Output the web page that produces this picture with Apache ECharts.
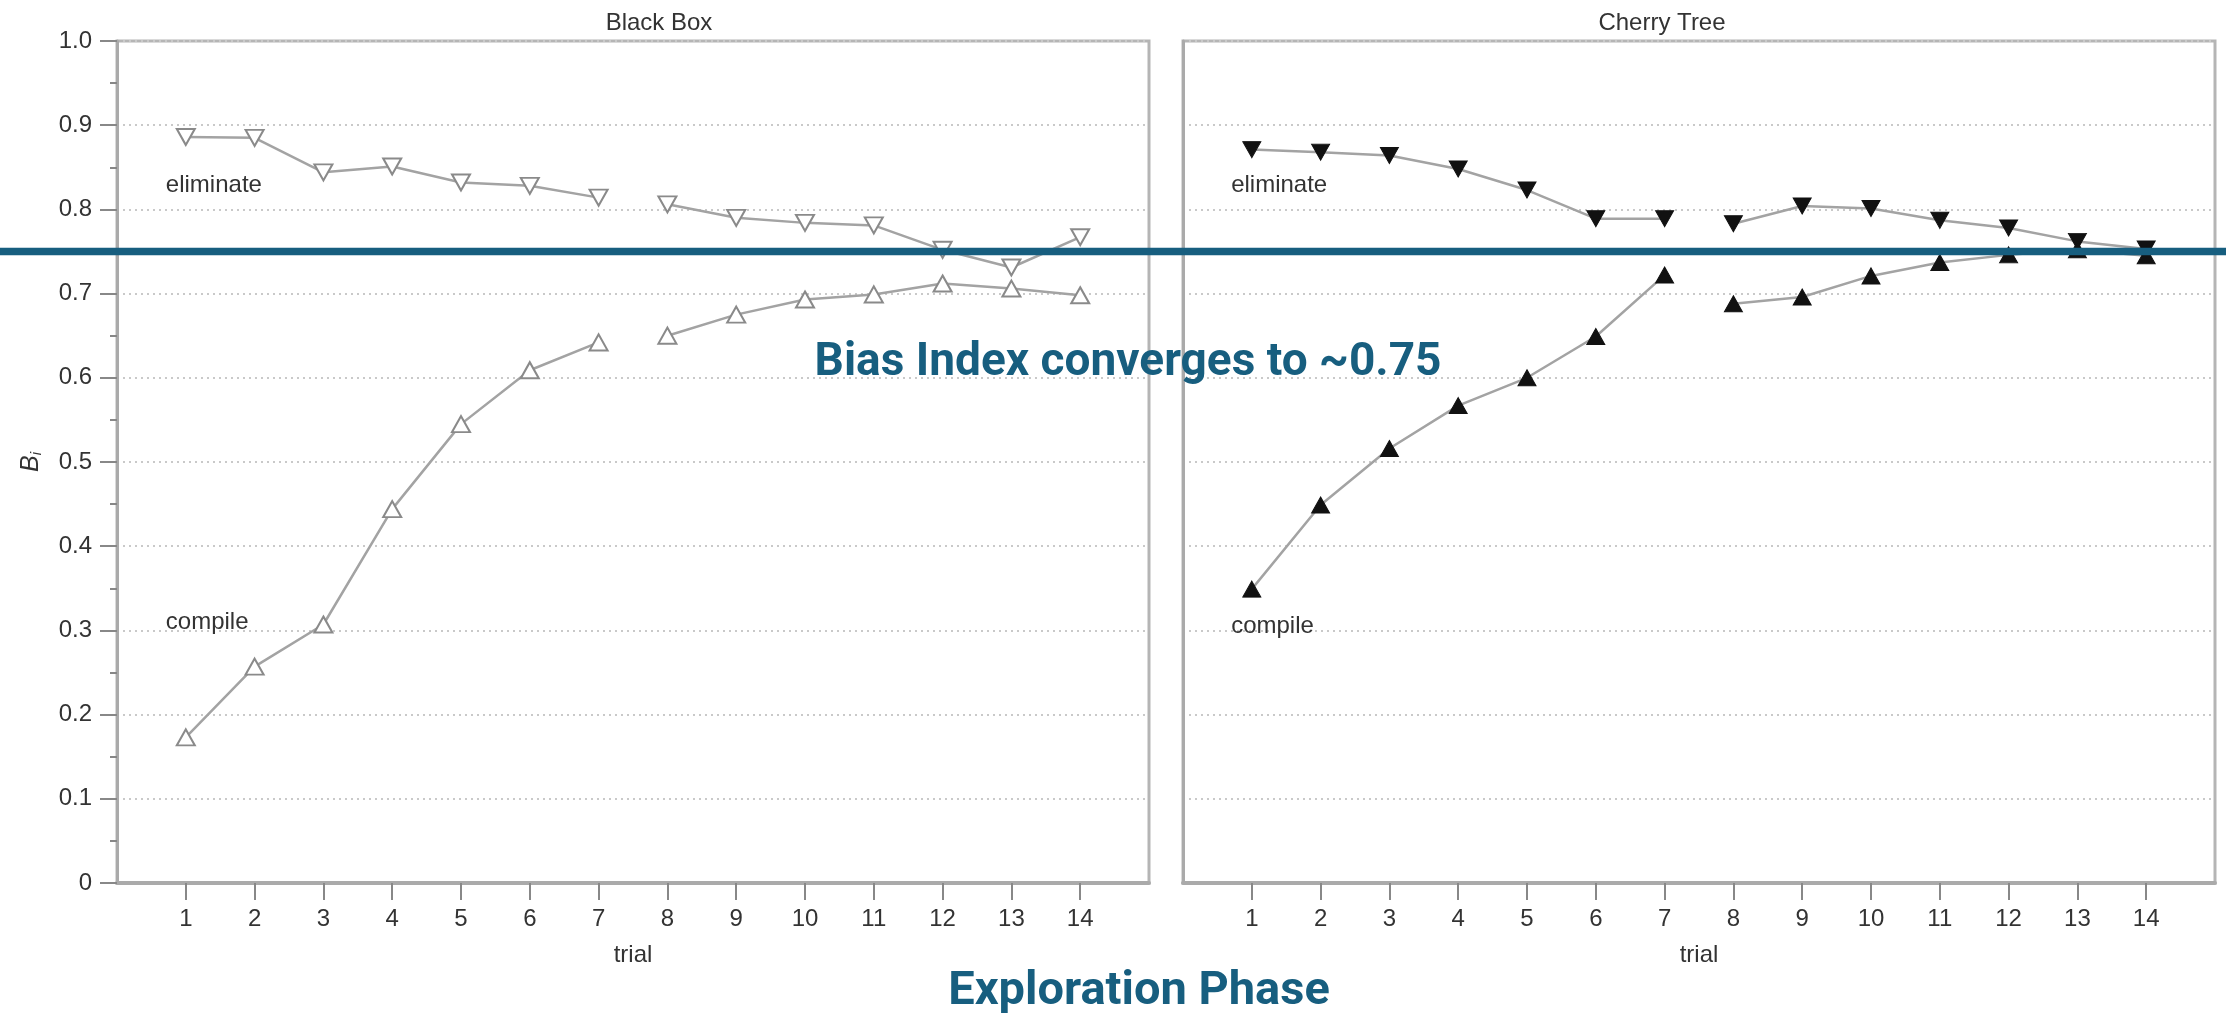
<!DOCTYPE html>
<html>
<head>
<meta charset="utf-8">
<script src="https://cdn.jsdelivr.net/npm/echarts@6/dist/echarts.min.js"></script>
<style>
html,body{margin:0;padding:0;background:#fff;}
#c{width:2226px;height:1014px;}
</style>
</head>
<body>
<div id="c"></div>
<script>
// ---- data ----
const trials = [1,2,3,4,5,6,7,8,9,10,11,12,13,14];
const yTicks = [0,0.1,0.2,0.3,0.4,0.5,0.6,0.7,0.8,0.9,1.0];
const panelTitles = ['Black Box', 'Cherry Tree'];
const bbEliminate = [0.886,0.885,0.844,0.851,0.832,0.828,0.814,0.806,0.790,0.784,0.781,0.752,0.731,0.767];
const bbCompile   = [0.173,0.257,0.307,0.444,0.545,0.609,0.642,0.650,0.675,0.693,0.699,0.712,0.706,0.698];
const ctEliminate = [0.871,0.868,0.864,0.848,0.823,0.789,0.789,0.783,0.804,0.801,0.787,0.778,0.762,0.753];
const ctCompile   = [0.349,0.449,0.516,0.567,0.600,0.649,0.722,0.688,0.696,0.721,0.737,0.746,0.752,0.745];
const convergeValue = 0.75;
const annotationText = 'Bias Index converges to ~0.75';
const footerText = 'Exploration Phase';

// ---- styles ----
const FONT = '"Liberation Sans", Arial, sans-serif';
const BOLDFONT = 'Roboto, "Liberation Sans", sans-serif';
const BLUE = '#175e7f';
const GRAY = '#b5b5b5';

function pairs(vals, from, to){
  const out = [];
  for (let i = from; i < to; i++) out.push([trials[i], vals[i]]);
  return out;
}

function lineSeries(idx, vals, filled, down){
  const base = {
    type:'line', xAxisIndex:idx, yAxisIndex:idx,
    symbol:'triangle', symbolSize:[18,16], symbolRotate: down ? 180 : 0,
    lineStyle:{color:'#a3a3a3', width:2.5},
    itemStyle: filled ? {color:'#111', borderColor:'#111', borderWidth:1}
                      : {color:'#fff', borderColor:'#8a8a8a', borderWidth:2},
    silent:true, animation:false, z:3
  };
  return [
    Object.assign({}, base, {data: pairs(vals, 0, 7)}),
    Object.assign({}, base, {data: pairs(vals, 7, 14)})
  ];
}

function xAxis(idx){
  return {
    gridIndex:idx, type:'value', min:0, max:15, interval:1,
    name:'trial', nameLocation:'middle', nameGap:60,
    nameTextStyle:{fontSize:24, color:'#333', fontFamily:FONT},
    axisLine:{show:true, onZero:false, lineStyle:{color:'#aaa', width:4}},
    axisTick:{show:true, inside:false, length:17, customValues:trials, lineStyle:{color:'#888', width:2}},
    axisLabel:{show:true, customValues:trials, fontSize:24, margin:24, color:'#333', fontFamily:FONT},
    splitLine:{show:false}
  };
}

function yAxis(idx){
  const showLab = idx === 0;
  return {
    gridIndex:idx, type:'value', min:0, max:1, interval:0.1,
    name: showLab ? '{b|B}{s|i}' : '', nameLocation:'middle', nameGap:73, nameRotate:90,
    nameTextStyle:{rich:{
      b:{fontSize:25, fontStyle:'italic', color:'#333', fontFamily:FONT},
      s:{fontSize:15, fontStyle:'italic', color:'#333', fontFamily:FONT, verticalAlign:'bottom', padding:[10,0,0,0]}
    }},
    axisLine:{show:true, lineStyle:{color:'#aaa', width:3}},
    axisTick:{show:showLab, length:17, lineStyle:{color:'#888', width:2}},
    minorTick:{show:showLab, splitNumber:2, length:7, lineStyle:{color:'#888', width:2}},
    axisLabel:{show:showLab, fontSize:24, margin:25, color:'#333', fontFamily:FONT,
      formatter: v => (Math.abs(v) < 1e-9 ? '0' : v.toFixed(1))},
    splitLine:{show:true, lineStyle:{type:[2,4], color:'#c9c9c9', width:2}}
  };
}

const chart = echarts.init(document.getElementById('c'));
const grids = [
  {left:117, top:41, width:1032, height:842, show:true, borderColor:GRAY, borderWidth:3},
  {left:1183, top:41, width:1032, height:842, show:true, borderColor:GRAY, borderWidth:3}
];

chart.setOption({
  animation:false,
  backgroundColor:'#fff',
  grid: grids,
  xAxis:[xAxis(0), xAxis(1)],
  yAxis:[yAxis(0), yAxis(1)],
  series:[].concat(
    lineSeries(0, bbEliminate, false, true),
    lineSeries(0, bbCompile, false, false),
    lineSeries(1, ctEliminate, true, true),
    lineSeries(1, ctCompile, true, false)
  )
});

// ---- annotations placed through the axes' scales ----
const panelLabels = [
  {grid:0, x:0.71, y:0.828, text:'eliminate'},
  {grid:0, x:0.71, y:0.309, text:'compile'},
  {grid:1, x:0.70, y:0.828, text:'eliminate'},
  {grid:1, x:0.70, y:0.305, text:'compile'}
];
const graphics = [];
panelLabels.forEach(l => {
  const p = chart.convertToPixel({gridIndex:l.grid}, [l.x, l.y]);
  graphics.push({type:'text', x:p[0], y:p[1], z:10,
    style:{text:l.text, font:'24px ' + FONT, fill:'#333', align:'left', verticalAlign:'middle'}});
});
// panel titles
const titleX = [659, 1662];
panelTitles.forEach((t, i) => {
  graphics.push({type:'text', x:titleX[i], y:23, z:10,
    style:{text:t, font:'24px ' + FONT, fill:'#333', align:'center', verticalAlign:'middle'}});
});
// convergence line across whole image
const yLine = chart.convertToPixel({yAxisIndex:0}, convergeValue);
graphics.push({type:'line', z:100, shape:{x1:0, y1:yLine, x2:2226, y2:yLine},
  style:{stroke:BLUE, lineWidth:7.5}});
graphics.push({type:'text', x:1128, y:363, z:100,
  style:{text:annotationText, font:'bold 46px ' + BOLDFONT, fill:BLUE, align:'center', verticalAlign:'middle'}});
graphics.push({type:'text', x:1139, y:992, z:100,
  style:{text:footerText, font:'bold 47px ' + BOLDFONT, fill:BLUE, align:'center', verticalAlign:'middle'}});

chart.setOption({graphic: graphics});
</script>
</body>
</html>
